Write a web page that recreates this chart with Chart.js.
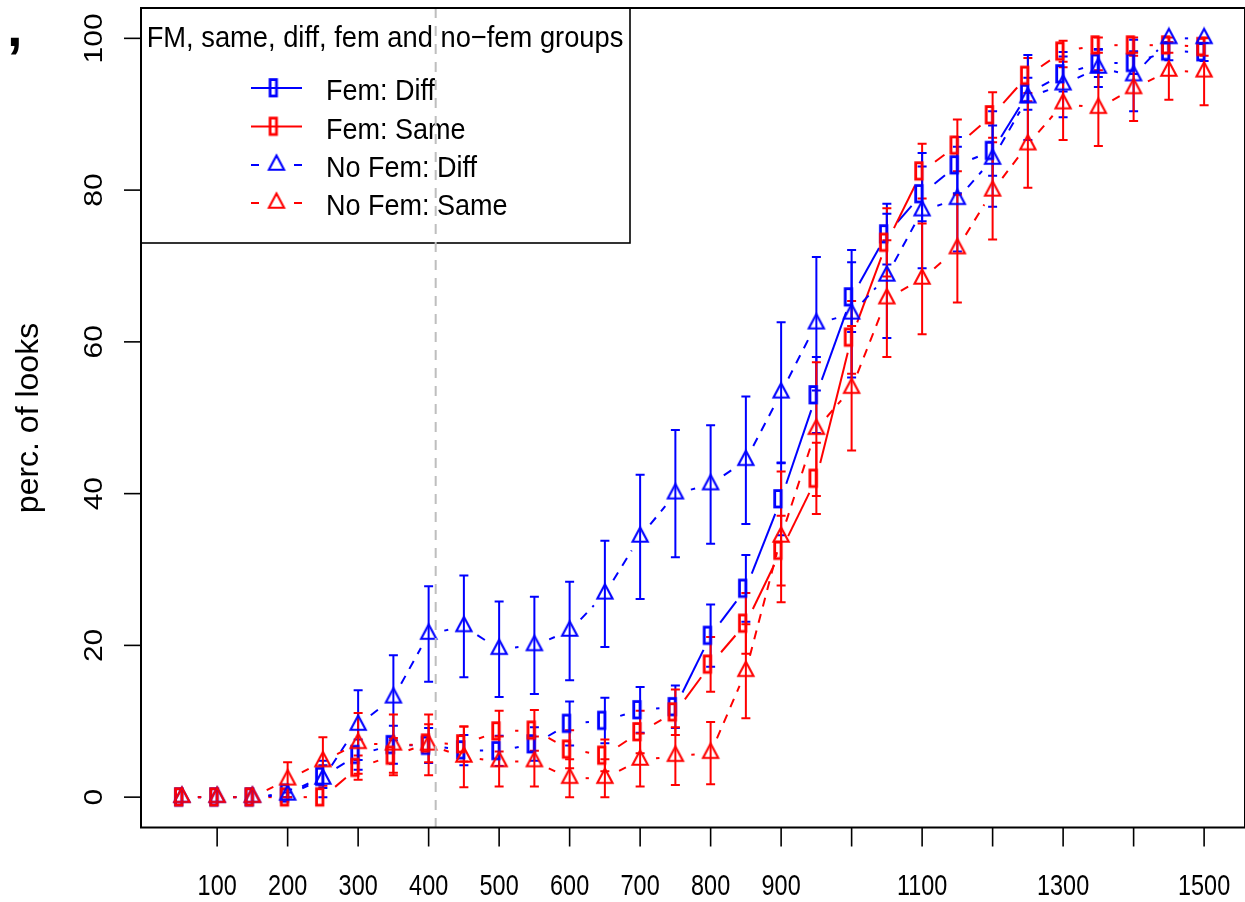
<!DOCTYPE html>
<html>
<head>
<meta charset="utf-8">
<script src="https://cdn.jsdelivr.net/npm/chart.js@4.4.1/dist/chart.umd.min.js"></script>
<style>
  html, body { margin: 0; padding: 0; background: #fff; overflow: hidden; }
  canvas { display: block; width: 1245px; height: 902px; }
</style>
</head>
<body>
<canvas id="looks-chart" width="1245" height="902"></canvas>
<script>
// time bins (ms)
const xValues = [50, 100, 150, 200, 250, 300, 350, 400, 450, 500, 550, 600, 650, 700, 750,
                 800, 850, 900, 950, 1000, 1050, 1100, 1150, 1200, 1250, 1300, 1350, 1400, 1450, 1500];

// Fem: Diff
const femDiff = [0, 0, 0, 0.5, 2.7, 5.6, 6.9, 6.8, 6.2, 6.1, 7.0, 9.7, 10.1, 11.5, 11.9,
                 21.3, 27.5, 39.3, 53.0, 65.9, 74.2, 79.5, 83.3, 85.2, 92.7, 95.3, 96.7, 96.8, 98.3, 98.2];
const femDiffErr = [0, 0, 0, 0.5, 1.5, 2.0, 2.5, 2.3, 2.0, 2.0, 2.2, 2.9, 3.0, 3.0, 2.8,
                    4.1, 4.4, 4.8, 5.0, 4.6, 4.0, 3.6, 3.7, 3.3, 2.1, 2.3, 1.8, 1.5, 1.2, 1.2];

// Fem: Same
const femSame = [0, 0, 0, 0, 0, 3.9, 5.5, 7.1, 7.0, 8.7, 8.8, 6.3, 5.5, 8.6, 11.2,
                 17.5, 22.9, 32.5, 42.0, 60.6, 73.1, 82.5, 85.9, 89.9, 95.1, 98.3, 99.1, 99.1, 99.1, 98.9];
const femSameErr = [0, 0, 0, 0, 0, 1.6, 2.3, 2.5, 2.3, 2.7, 2.7, 2.5, 2.1, 2.8, 3.0,
                    3.6, 4.0, 4.6, 4.7, 4.8, 4.5, 3.6, 3.4, 3.0, 2.3, 1.4, 1.0, 1.0, 1.0, 1.2];

// No Fem: Diff
const noFemDiff = [0, 0, 0, 0.3, 2.4, 9.5, 13.1, 21.5, 22.5, 19.5, 20.0, 21.9, 26.8, 34.3, 40.0,
                   41.2, 44.4, 53.3, 62.4, 63.7, 68.7, 77.3, 78.8, 84.1, 92.2, 93.9, 96.1, 95.1, 100, 100];
const noFemDiffErr = [0, 0, 0, 0.3, 2.4, 4.6, 5.6, 6.3, 6.7, 6.3, 6.4, 6.5, 7.0, 8.2, 8.4,
                      7.8, 8.4, 9.3, 8.8, 8.4, 8.2, 7.6, 6.9, 6.3, 5.6, 4.3, 2.5, 4.7, 0, 0];

// No Fem: Same
const noFemSame = [0, 0, 0, 2.3, 4.7, 7.1, 6.9, 6.9, 5.3, 4.7, 4.7, 2.5, 2.5, 4.9, 5.4,
                   5.8, 16.6, 34.3, 48.5, 53.9, 65.7, 68.3, 72.3, 79.9, 86.0, 91.4, 90.8, 93.4, 95.7, 95.6];
const noFemSameErr = [0, 0, 0, 2.3, 3.2, 4.0, 4.0, 4.0, 4.0, 3.3, 3.3, 2.5, 2.5, 3.5, 3.8,
                      4.1, 6.2, 8.6, 8.8, 8.2, 7.7, 7.3, 7.1, 6.4, 5.7, 4.8, 5.0, 4.3, 3.8, 4.4];

const seriesNames = ['Fem: Diff', 'Fem: Same', 'No Fem: Diff', 'No Fem: Same'];
const legendTitle = 'FM, same, diff, fem and no\u2212fem groups';

const xTickValues = [100, 200, 300, 400, 500, 600, 700, 800, 900, 1000, 1100, 1200, 1300, 1400, 1500];
const xTickLabels = ['100', '200', '300', '400', '500', '600', '700', '800', '900', '', '1100', '', '1300', '', '1500'];
const yTickValues = [0, 20, 40, 60, 80, 100];
const yTickLabels = ['0', '20', '40', '60', '80', '100'];
const yTitle = 'perc. of looks';
const cutoffX = 410;

const BLUE = '#0000ff';
const RED = '#ff0000';
const FONT = '"Liberation Sans", Arial, Helvetica, sans-serif';

// point glyphs: narrow box (drawn a bit left of centre) and open triangle centred on its centroid
function boxGlyph(color) {
    const c = document.createElement('canvas');
    c.width = 24; c.height = 24;
    const g = c.getContext('2d');
    g.strokeStyle = color;
    g.lineWidth = 2.8;
    g.strokeRect(5.6, 3.6, 6.4, 16.4);
    return c;
}

function triGlyph(color) {
    const c = document.createElement('canvas');
    c.width = 24; c.height = 24;
    const g = c.getContext('2d');
    g.strokeStyle = color;
    g.lineWidth = 2.1;
    g.lineJoin = 'miter';
    g.beginPath();
    g.moveTo(12, 2.4);
    g.lineTo(19.6, 16.8);
    g.lineTo(4.4, 16.8);
    g.closePath();
    g.stroke();
    return c;
}

const series = [
    { name: seriesNames[0], values: femDiff, errs: femDiffErr, color: BLUE, dashed: false, glyph: boxGlyph(BLUE) },
    { name: seriesNames[1], values: femSame, errs: femSameErr, color: RED, dashed: false, glyph: boxGlyph(RED) },
    { name: seriesNames[2], values: noFemDiff, errs: noFemDiffErr, color: BLUE, dashed: true, glyph: triGlyph(BLUE) },
    { name: seriesNames[3], values: noFemSame, errs: noFemSameErr, color: RED, dashed: true, glyph: triGlyph(RED) },
];

function drawText(ctx, text, x, y, o) {
    ctx.save();
    ctx.translate(x, y);
    if (o.rot) ctx.rotate(o.rot);
    ctx.scale(o.sx || 1, o.sy || 1);
    ctx.font = (o.weight || 'normal') + ' ' + o.size + 'px ' + FONT;
    ctx.textAlign = o.align || 'center';
    ctx.textBaseline = 'alphabetic';
    ctx.fillStyle = '#000';
    ctx.fillText(text, 0, 0);
    ctx.restore();
}

// connecting segments with gaps round each point, plus error bars
const linesAndBars = {
    id: 'linesAndBars',
    beforeDatasetsDraw(chart) {
        const ctx = chart.ctx;
        const yScale = chart.scales.y;
        const gap = 16;
        ctx.save();
        series.forEach((s, di) => {
            const pts = chart.getDatasetMeta(di).data;
            ctx.strokeStyle = s.color;
            ctx.lineWidth = 2;
            ctx.lineCap = 'butt';
            for (let i = 0; i < pts.length - 1; i++) {
                const a = pts[i], b = pts[i + 1];
                const dx = b.x - a.x, dy = b.y - a.y;
                const d = Math.hypot(dx, dy);
                if (d <= 2 * gap) continue;
                const ux = dx / d, uy = dy / d;
                ctx.setLineDash(s.dashed ? [9, 8] : []);
                ctx.beginPath();
                ctx.moveTo(a.x + ux * gap, a.y + uy * gap);
                ctx.lineTo(b.x - ux * gap, b.y - uy * gap);
                ctx.stroke();
            }
            ctx.setLineDash([]);
            pts.forEach((p, i) => {
                const e = s.errs[i];
                if (!e) return;
                const top = yScale.getPixelForValue(s.values[i] + e);
                const bot = yScale.getPixelForValue(s.values[i] - e);
                ctx.beginPath();
                ctx.moveTo(p.x, top); ctx.lineTo(p.x, bot);
                ctx.moveTo(p.x - 4.5, top); ctx.lineTo(p.x + 4.5, top);
                ctx.moveTo(p.x - 4.5, bot); ctx.lineTo(p.x + 4.5, bot);
                ctx.stroke();
            });
        });
        ctx.restore();
    }
};

// frame, axes, legend and reference line in base-graphics style
const frame = {
    id: 'frame',
    afterDatasetsDraw(chart) {
        const ctx = chart.ctx;
        const a = chart.chartArea;
        const xs = chart.scales.x, ys = chart.scales.y;
        ctx.save();

        // legend
        const lx0 = a.left, ly0 = a.top, lx1 = 630, ly1 = 243;
        ctx.fillStyle = '#fff';
        ctx.fillRect(lx0, ly0, lx1 - lx0, ly1 - ly0);
        ctx.strokeStyle = '#000';
        ctx.lineWidth = 1.6;
        ctx.strokeRect(lx0, ly0, lx1 - lx0, ly1 - ly0);
        drawText(ctx, legendTitle, 385, 47, { size: 30, sx: 0.91 });
        const rows = [100, 138.5, 177, 215];
        series.forEach((s, i) => {
            const cy = rows[i] - 12;
            ctx.strokeStyle = s.color;
            ctx.lineWidth = 2;
            ctx.beginPath();
            if (s.dashed) {
                ctx.moveTo(251, cy); ctx.lineTo(259, cy);
                ctx.moveTo(294, cy); ctx.lineTo(302, cy);
            } else {
                ctx.moveTo(251, cy); ctx.lineTo(302, cy);
            }
            ctx.stroke();
            ctx.drawImage(s.glyph, 276.5 - 12, cy - 12);
            drawText(ctx, s.name, 326, rows[i], { size: 30, sx: 0.9, align: 'left' });
        });

        // reference line
        const rx = xs.getPixelForValue(cutoffX);
        ctx.strokeStyle = '#bebebe';
        ctx.lineWidth = 2;
        ctx.setLineDash([10, 8]);
        ctx.beginPath();
        ctx.moveTo(rx, a.top); ctx.lineTo(rx, a.bottom);
        ctx.stroke();
        ctx.setLineDash([]);

        // box
        ctx.strokeStyle = '#000';
        ctx.lineWidth = 2;
        ctx.strokeRect(a.left, a.top, a.right - a.left, a.bottom - a.top);

        // x axis
        ctx.lineWidth = 1.6;
        xTickValues.forEach((v, i) => {
            const px = xs.getPixelForValue(v);
            ctx.beginPath();
            ctx.moveTo(px, a.bottom); ctx.lineTo(px, a.bottom + 19);
            ctx.stroke();
            if (xTickLabels[i]) drawText(ctx, xTickLabels[i], px, 895, { size: 30, sx: 0.78 });
        });

        // y axis
        yTickValues.forEach((v, i) => {
            const py = ys.getPixelForValue(v);
            ctx.beginPath();
            ctx.moveTo(a.left, py); ctx.lineTo(a.left - 17, py);
            ctx.stroke();
            drawText(ctx, yTickLabels[i], 102, py, { size: 30, sy: 0.88, rot: -Math.PI / 2 });
        });
        drawText(ctx, yTitle, 38, 418, { size: 32, rot: -Math.PI / 2 });
        drawText(ctx, ',', 7, 46, { size: 56, weight: 'bold', align: 'left' });

        ctx.restore();
    }
};

const datasets = series.map((s, i) => ({
    label: s.name,
    data: xValues.map((x, j) => ({ x: x, y: s.values[j] })),
    pointStyle: s.glyph,
    pointRadius: 12,
    showLine: false,
    order: series.length - i,
}));

const config = {
    type: 'scatter',
    data: { datasets: datasets },
    options: {
        responsive: false,
        animation: false,
        devicePixelRatio: 1,
        // fixed plot region; the frame runs a few pixels past the right edge of the canvas
        layout: { autoPadding: false, padding: { left: 141, top: 8, right: -9, bottom: 74.5 } },
        scales: {
            x: { type: 'linear', min: -8, max: 1558, display: false },
            y: { type: 'linear', min: -4, max: 104, display: false },
        },
        plugins: {
            legend: { display: false },
            tooltip: { enabled: false },
        },
    },
    plugins: [linesAndBars, frame],
};

new Chart(document.getElementById('looks-chart').getContext('2d'), config);
</script>
</body>
</html>
